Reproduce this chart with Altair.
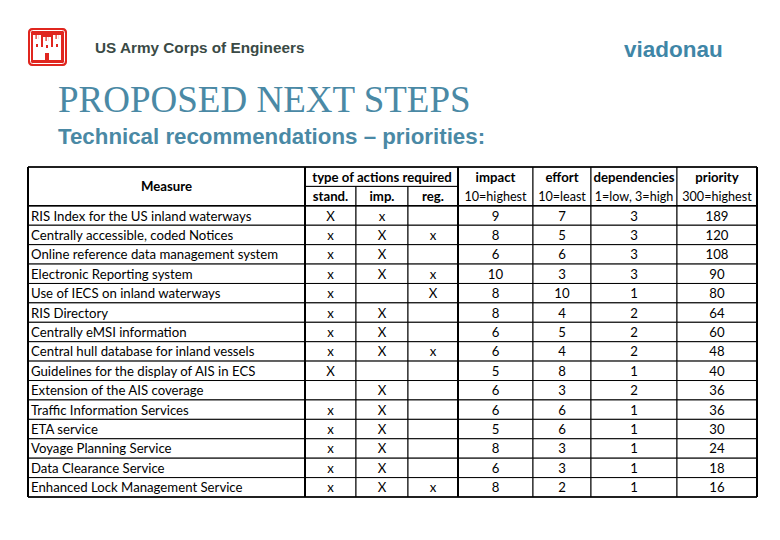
import altair as alt
import pandas as pd

# ---------------- data ----------------
measures = [
    "RIS Index for the US inland waterways",
    "Centrally accessible, coded Notices",
    "Online reference data management system",
    "Electronic Reporting system",
    "Use of IECS on inland waterways",
    "RIS Directory",
    "Centrally eMSI information",
    "Central hull database for inland vessels",
    "Guidelines for the display of AIS in ECS",
    "Extension of the AIS coverage",
    "Traffic Information Services",
    "ETA service",
    "Voyage Planning Service",
    "Data Clearance Service",
    "Enhanced Lock Management Service",
]
stand = ["X", "x", "x", "x", "x", "x", "x", "x", "X", "", "x", "x", "x", "x", "x"]
imp = ["x", "X", "X", "X", "", "X", "X", "X", "", "X", "X", "X", "X", "X", "X"]
reg = ["", "x", "", "x", "X", "", "", "x", "", "", "", "", "", "", "x"]
impact = [9, 8, 6, 10, 8, 8, 6, 6, 5, 6, 6, 5, 8, 6, 8]
effort = [7, 5, 6, 3, 10, 4, 5, 4, 8, 3, 6, 6, 3, 3, 2]
dependencies = [3, 3, 3, 3, 1, 2, 2, 2, 1, 2, 1, 1, 1, 1, 1]
priority = [189, 120, 108, 90, 80, 64, 60, 48, 40, 36, 36, 30, 24, 18, 16]

group_header = "type of actions required"
action_headers = ["stand.", "imp.", "reg."]
metric_headers = ["impact", "effort", "dependencies", "priority"]
metric_sub = ["10=highest", "10=least", "1=low, 3=high", "300=highest"]

# ---------------- layout (pixels) ----------------
col_edges_px = [20, 297, 348, 400, 450, 525, 583, 669, 749]
n_cols = len(col_edges_px) - 1
n_rows = len(measures) + 2
row_range_px = [159, 489]
FONT = "Lato"
FS = 13.2
BLUE = "#4a89a5"
RED = "#e0261f"

xs = alt.Scale(domain=list(range(n_cols + 1)), range=col_edges_px, nice=False, zero=False)
ys = alt.Scale(domain=[0, n_rows], range=row_range_px, nice=False, zero=False)

# ---------------- cell frames ----------------
cells = [dict(c0=0, c1=1, r0=0, r1=2), dict(c0=1, c1=4, r0=0, r1=1)]
for j in range(3):
    cells.append(dict(c0=1 + j, c1=2 + j, r0=1, r1=2))
for j in range(4):
    cells.append(dict(c0=4 + j, c1=5 + j, r0=0, r1=2))
for i in range(len(measures)):
    for j in range(n_cols):
        cells.append(dict(c0=j, c1=j + 1, r0=i + 2, r1=i + 3))
cells_df = pd.DataFrame(cells)

X = lambda f: alt.X(f, type="quantitative", scale=xs, axis=None)
Y = lambda f: alt.Y(f, type="quantitative", scale=ys, axis=None)

rects = alt.Chart(cells_df).mark_rect(fill="white", stroke="black", strokeWidth=1).encode(
    x=X("c0"), x2="c1", y=Y("r0"), y2="r1"
)

thick_df = pd.DataFrame({"c": [0, 1, 4, n_cols], "r0": [0] * 4, "r1": [n_rows] * 4})
thick = alt.Chart(thick_df).mark_rule(color="black", strokeWidth=2).encode(
    x=X("c"), y=Y("r0"), y2="r1"
)
hline_df = pd.DataFrame({"r": [0, 2, n_rows], "c0": [0] * 3, "c1": [n_cols] * 3})
hlines = alt.Chart(hline_df).mark_rule(color="black", strokeWidth=1.5).encode(
    y=Y("r"), x=X("c0"), x2="c1"
)

# ---------------- texts ----------------
hb = [dict(t="Measure", cx=0.5, cy=1.0), dict(t=group_header, cx=2.5, cy=0.5)]
for j, h in enumerate(action_headers):
    hb.append(dict(t=h, cx=1.5 + j, cy=1.5))
for j, h in enumerate(metric_headers):
    hb.append(dict(t=h, cx=4.5 + j, cy=0.5))
hb_df = pd.DataFrame(hb)
hs_df = pd.DataFrame([dict(t=s, cx=4.5 + j, cy=1.5) for j, s in enumerate(metric_sub)])

body = []
for i in range(len(measures)):
    vals = [stand[i], imp[i], reg[i], impact[i], effort[i], dependencies[i], priority[i]]
    for j, v in enumerate(vals):
        body.append(dict(t=str(v), cx=1.5 + j, cy=i + 2.5))
body_df = pd.DataFrame(body)
meas_df = pd.DataFrame({"t": measures, "c": [0] * len(measures),
                        "cy": [i + 2.5 for i in range(len(measures))]})

common = dict(font=FONT, fontSize=FS, baseline="middle", color="black", dy=1)
hb_text = alt.Chart(hb_df).mark_text(fontWeight="bold", align="center", **common).encode(
    x=X("cx"), y=Y("cy"), text="t:N")
hs_text = alt.Chart(hs_df).mark_text(align="center", font=FONT, fontSize=12.6,
                                     baseline="middle", color="black", dy=1).encode(
    x=X("cx"), y=Y("cy"), text="t:N")
body_text = alt.Chart(body_df).mark_text(align="center", **common).encode(
    x=X("cx"), y=Y("cy"), text="t:N")
meas_text = alt.Chart(meas_df).mark_text(align="left", dx=3, **common).encode(
    x=X("c"), y=Y("cy"), text="t:N")

# ---------------- slide decoration ----------------
def label(txt, x, y, **kw):
    return alt.Chart(pd.DataFrame({"t": [txt]})).mark_text(
        align="left", baseline="alphabetic", **kw
    ).encode(x=alt.value(x), y=alt.value(y), text="t:N")

usace = label("US Army Corps of Engineers", 87, 45, font="Liberation Sans",
              fontSize=15.3, fontWeight="bold", color="#3a4a45")
viad = label("viadonau", 616, 49, font="Liberation Sans", fontSize=22.5,
             fontWeight="bold", color="#3f86a7")
title = label("PROPOSED NEXT STEPS", 50, 104, font="Liberation Serif", fontSize=37,
              color=BLUE)
subtitle = label("Technical recommendations \u2013 priorities:", 50, 136,
                 font="Liberation Sans", fontSize=22.3, fontWeight="bold", color=BLUE)

logo_box = alt.Chart(pd.DataFrame({"a": [0]})).mark_rect(
    fill=RED, cornerRadius=4).encode(
    x=alt.value(20), x2=alt.value(59), y=alt.value(20), y2=alt.value(58))
logo_inner = alt.Chart(pd.DataFrame({"a": [0]})).mark_rect(
    fill=None, stroke="white", strokeWidth=1, cornerRadius=2).encode(
    x=alt.value(22.5), x2=alt.value(56.5), y=alt.value(22.5), y2=alt.value(55.5))

castle = pd.DataFrame([
    # wall & towers (white)
    dict(x=25, x2=53, y=39, y2=52, c="white"),
    dict(x=25, x2=33, y=31, y2=52, c="white"),
    dict(x=45, x2=53, y=31, y2=52, c="white"),
    dict(x=35, x2=43, y=33, y2=52, c="white"),
    # crenellations
    dict(x=25, x2=27.5, y=27, y2=31, c="white"),
    dict(x=27.8 + 0.9, x2=29.8 + 0.9, y=27, y2=31, c="white"),
    dict(x=30.5, x2=33, y=27, y2=31, c="white"),
    dict(x=45, x2=47.5, y=27, y2=31, c="white"),
    dict(x=48.7, x2=50.7, y=27, y2=31, c="white"),
    dict(x=50.5, x2=53, y=27, y2=31, c="white"),
    dict(x=35, x2=37.5, y=29, y2=33, c="white"),
    dict(x=38.7, x2=40.7, y=29, y2=33, c="white"),
    dict(x=40.5, x2=43, y=29, y2=33, c="white"),
    # door & windows (red)
    dict(x=37, x2=41, y=45, y2=52, c=RED),
    dict(x=28, x2=30, y=36, y2=39, c=RED),
    dict(x=48, x2=50, y=36, y2=39, c=RED),
    dict(x=38, x2=40, y=37, y2=40, c=RED),
])
logo_castle = alt.Chart(castle).mark_rect().encode(
    x=alt.X("x:Q", scale=None, axis=None), x2="x2",
    y=alt.Y("y:Q", scale=None, axis=None), y2="y2",
    color=alt.Color("c:N", scale=None, legend=None))

table = alt.layer(rects, hlines, thick, hb_text, hs_text, body_text, meas_text)
deco = alt.layer(logo_box, logo_inner, logo_castle, usace, viad, title, subtitle)

chart = alt.layer(table, deco).resolve_scale(x="independent", y="independent").properties(
    width=764, height=524, autosize=alt.AutoSizeParams(type="none"), padding=0,
    background="white"
).configure_view(stroke=None)

chart.save("out.html", embed_options={"renderer": "svg", "actions": False})
